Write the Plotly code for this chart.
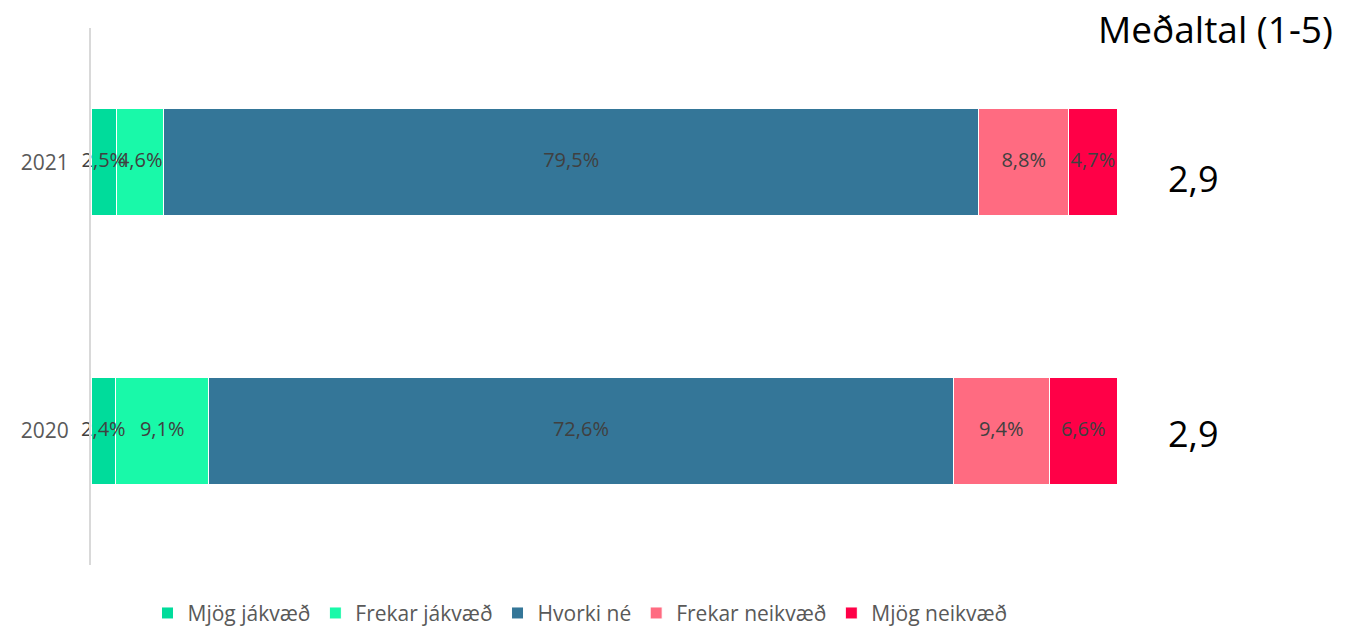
import plotly.graph_objects as go

years = ["2020", "2021"]
series_names = ["Mjög jákvæð", "Frekar jákvæð", "Hvorki né", "Frekar neikvæð", "Mjög neikvæð"]
values = {
    "Mjög jákvæð": [2.4, 2.5],
    "Frekar jákvæð": [9.1, 4.6],
    "Hvorki né": [72.6, 79.5],
    "Frekar neikvæð": [9.4, 8.8],
    "Mjög neikvæð": [6.6, 4.7],
}
means = [2.9, 2.9]
colors = ["#00DC9B", "#19F9A9", "#347698", "#FF6B81", "#FF0047"]

fig = go.Figure()
for name, col in zip(series_names, colors):
    vals = values[name]
    fig.add_trace(go.Bar(
        y=years, x=vals, orientation="h", name=name,
        marker=dict(color=col, line=dict(color="white", width=1)),
        hoverinfo="skip",
    ))

# data labels on top of all bars, at segment midpoints
cum = [0.0] * len(years)
for name in series_names:
    vals = values[name]
    mids = [c + v / 2 for c, v in zip(cum, vals)]
    cum = [c + v for c, v in zip(cum, vals)]
    fig.add_trace(go.Scatter(
        x=mids, y=years, mode="text", showlegend=False, cliponaxis=False,
        text=[f"{v:.1f}%".replace(".", ",") for v in vals],
        textposition="middle center",
        textfont=dict(family="Open Sans", size=20, color="#404040"),
        hoverinfo="skip",
    ))

for i, m in enumerate(means):
    fig.add_annotation(
        x=1.074, xref="paper", y=i, yref="y", yshift=(-16 if i == 1 else -3),
        text=f"{m:.1f}".replace(".", ","), showarrow=False,
        font=dict(family="Open Sans", size=36, color="black"),
        xanchor="center", yanchor="middle",
    )

fig.add_annotation(
    x=1.2125, xref="paper", y=1.0, yref="paper", text="Meðaltal (1-5)",
    showarrow=False, xanchor="right", yanchor="middle",
    font=dict(family="Open Sans", size=37, color="black"),
)

fig.update_layout(
    barmode="stack", bargap=0.6,
    width=1361, height=628,
    margin=dict(l=91, r=244, t=27.5, b=62.5, autoexpand=False),
    paper_bgcolor="white", plot_bgcolor="white",
    showlegend=True,
    legend=dict(orientation="h", x=0.4766, xanchor="center", y=-0.09, yanchor="middle",
                font=dict(family="Open Sans", size=21, color="#595959"),
                traceorder="normal", itemwidth=30),
    xaxis=dict(range=[0, 100.1], showgrid=False, showticklabels=False, zeroline=False,
               showline=False, fixedrange=True, automargin=False),
    yaxis=dict(type="category", categoryorder="array", categoryarray=years, showgrid=False,
               range=[-0.5, 1.5], automargin=False,
               showline=True, linecolor="#D9D9D9", linewidth=2,
               tickfont=dict(family="Open Sans", size=21, color="#595959"),
               ticklabelstandoff=16, ticks=""),
)

fig.write_html("out.html", config={"displayModeBar": False},
               post_script="document.body.style.margin='0';")
